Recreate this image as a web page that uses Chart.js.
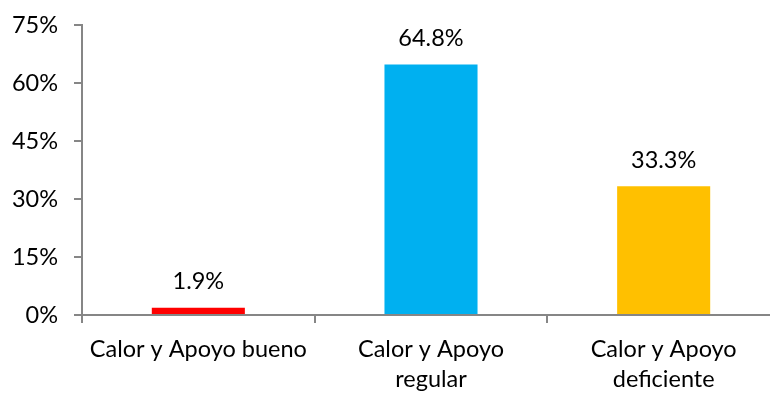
<!DOCTYPE html>
<html>
<head>
<meta charset="utf-8">
<script src="https://cdn.jsdelivr.net/npm/chart.js@4"></script>
<style>
  html, body { margin: 0; padding: 0; background: #fff; overflow: hidden; }
  #marco { width: 770px; height: 394px; position: relative; overflow: hidden; }
  #wrap { width: 780px; height: 399px; position: absolute; left: 0; top: -5px; }
</style>
</head>
<body>
<div id="marco"><div id="wrap"><canvas id="grafico"></canvas></div></div>
<script>
// datos del grafico
const categorias = [['Calor y Apoyo bueno'], ['Calor y Apoyo', 'regular'], ['Calor y Apoyo', 'deficiente']];
const porcentajes = [1.9, 64.8, 33.3];
const colores = ['#ff0000', '#00b0f0', '#ffc000'];
const ticksY = [0, 15, 30, 45, 60, 75];

const FUENTE = "Lato, 'Open Sans', sans-serif";
const GRIS = '#868686';
const TAM = 23.5;

// etiquetas de valor encima de cada barra
const etiquetasValor = {
    id: 'etiquetasValor',
    afterDatasetsDraw(chart) {
        const ctx = chart.ctx;
        const meta = chart.getDatasetMeta(0);
        ctx.save();
        ctx.font = TAM + 'px ' + FUENTE;
        ctx.fillStyle = '#000';
        ctx.textAlign = 'center';
        ctx.textBaseline = 'middle';
        meta.data.forEach((bar, i) => {
            ctx.fillText(porcentajes[i].toFixed(1) + '%', bar.x, bar.y - 26);
        });
        ctx.restore();
    }
};

new Chart(document.getElementById('grafico'), {
    type: 'bar',
    data: {
        labels: categorias,
        datasets: [{
            data: porcentajes,
            backgroundColor: colores,
            barPercentage: 0.4,
            categoryPercentage: 1.0
        }]
    },
    options: {
        responsive: true,
        maintainAspectRatio: false,
        animation: false,
        plugins: {
            legend: { display: false },
            tooltip: { enabled: false }
        },
        scales: {
            x: {
                offset: true,
                grid: {
                    offset: true,
                    drawOnChartArea: false,
                    drawTicks: true,
                    tickLength: 8,
                    color: GRIS,
                    lineWidth: 2
                },
                border: { color: GRIS, width: 2 },
                ticks: {
                    color: '#000',
                    padding: 11,
                    maxRotation: 0,
                    autoSkip: false,
                    font: { family: FUENTE, size: TAM, lineHeight: 1.3 }
                },
                afterFit(scale) { scale.height = 79; }
            },
            y: {
                min: 0,
                max: 75,
                afterBuildTicks(scale) {
                    scale.ticks = ticksY.map(v => ({ value: v }));
                },
                grid: {
                    drawOnChartArea: false,
                    drawTicks: true,
                    tickLength: 8,
                    color: GRIS,
                    lineWidth: 2
                },
                border: { color: GRIS, width: 2 },
                ticks: {
                    color: '#000',
                    padding: 16,
                    font: { family: FUENTE, size: TAM },
                    callback: v => v + '%'
                },
                afterFit(scale) { scale.width = 82; }
            }
        }
    },
    plugins: [etiquetasValor]
});
</script>
</body>
</html>
